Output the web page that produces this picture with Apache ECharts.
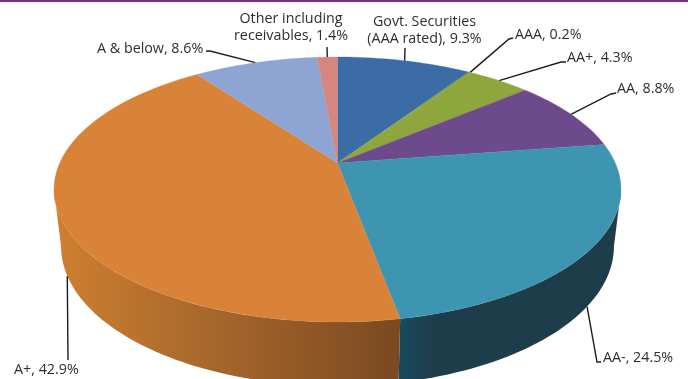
<!DOCTYPE html>
<html>
<head>
<meta charset="utf-8">
<style>
  html, body { margin: 0; padding: 0; background: #fff; }
  #chart { width: 688px; height: 379px; }
</style>
<script src="https://cdn.jsdelivr.net/npm/echarts@6/dist/echarts.min.js"></script>
</head>
<body>
<div id="chart"></div>
<script>
// Portfolio split by credit rating, clockwise from twelve o'clock.
const categories = [
  'Govt. Securities\n(AAA rated)', 'AAA', 'AA+', 'AA', 'AA-', 'A+', 'A & below',
  'Other including\nreceivables'
];
const values = [9.3, 0.2, 4.3, 8.8, 24.5, 42.9, 8.6, 1.4];
const topColors = ['#3c6ca6', '#7f9f45', '#8ea63c', '#6d4a8c', '#3e95b1', '#d98338', '#8ea5d3', '#d4867f'];

// Rim side shading per slice; slices not facing the viewer have none.
const sideFills = {
  4: [['#1e3d4b', 0], ['#1e3d4b', 0.85], ['#194a60', 1]],
  5: [['#cf7f30', 0], ['#a9692c', 0.42], ['#7a4921', 1]]
};

// Projection of the tilted disc: apex, radii and perspective strength.
const view = {
  cx: 337.5, apexY: 163, rx: 277.8, ry: 127.2, persp: 0.2,
  baseApexY: 218.6, baseRxScale: 0.975, baseRyScale: 1.053
};

// Leader line waypoints and text anchors per slice.
const callouts = [
  { via: [[405, 48]], text: [424.5, 30.5], align: 'center' },
  { via: [[509, 39], [513, 38]], text: [515, 35], align: 'left' },
  { via: [[561, 62], [566, 62]], text: [567, 58], align: 'left' },
  { via: [[611, 94], [616, 93]], text: [617, 89], align: 'left' },
  { via: [[597, 362], [601, 362]], text: [603, 358], align: 'left', onBase: true },
  { via: [[68, 360]], text: [14, 370], align: 'left', onBase: true },
  { via: [[210, 51], [206, 51]], text: [97, 49], align: 'left' },
  { via: [[327, 47]], text: [291, 27.5], align: 'center' }
];

const total = values.reduce((a, b) => a + b, 0);
const spans = [];
values.reduce((acc, v) => {
  spans.push([acc / total * 360, (acc + v) / total * 360]);
  return acc + v;
}, 0);

function project(deg, onBase) {
  const a = deg * Math.PI / 180;
  const u = Math.sin(a), v = -Math.cos(a);
  const s = 1 / (1 - view.persp * v);
  return onBase
    ? [view.cx + view.baseRxScale * view.rx * u * s, view.baseApexY + view.baseRyScale * view.ry * v * s]
    : [view.cx + view.rx * u * s, view.apexY + view.ry * v * s];
}

function arc(a0, a1, onBase) {
  const steps = Math.max(2, Math.ceil(Math.abs(a1 - a0) / 1.5));
  const pts = [];
  for (let i = 0; i <= steps; i++) pts.push(project(a0 + (a1 - a0) * i / steps, onBase));
  return pts;
}

// The silhouette generators of the disc rim, left and right.
const tangent = Math.acos(-view.persp) * 180 / Math.PI;
const frontFrom = tangent, frontTo = 360 - tangent;

function renderSide(params) {
  const i = params.dataIndex;
  const stops = sideFills[i];
  const a0 = Math.max(spans[i][0], frontFrom), a1 = Math.min(spans[i][1], frontTo);
  if (!stops || a1 <= a0) return null;
  const points = arc(a0, a1, false).concat(arc(a1, a0, true));
  const xs = points.map(p => p[0]);
  // Shading runs across the rim, darkening toward the front of the disc.
  const fromRight = i === 4;
  const fill = {
    type: 'linear', global: true,
    x: fromRight ? Math.max(...xs) : Math.min(...xs), y: 0,
    x2: fromRight ? Math.min(...xs) : Math.max(...xs), y2: 0,
    colorStops: stops.map(s => ({ color: s[0], offset: s[1] }))
  };
  return { type: 'polygon', shape: { points }, style: { fill } };
}

function renderTop(params) {
  const i = params.dataIndex;
  const points = [[view.cx, view.apexY]].concat(arc(spans[i][0], spans[i][1], false));
  return {
    type: 'polygon',
    shape: { points },
    style: { fill: topColors[i], stroke: topColors[i], lineWidth: 0.3 }
  };
}

function renderCallout(params) {
  const i = params.dataIndex;
  const c = callouts[i];
  const mid = (spans[i][0] + spans[i][1]) / 2;
  const points = [project(mid, !!c.onBase)].concat(c.via);
  return {
    type: 'group',
    children: [
      {
        type: 'polyline',
        shape: { points },
        style: { stroke: '#1c1c1c', lineWidth: 1.4, fill: null }
      },
      {
        type: 'text',
        style: {
          text: categories[i] + ', ' + values[i].toFixed(1) + '%',
          x: c.text[0], y: c.text[1],
          fill: '#2e2e2e',
          font: '14.3px "Open Sans", sans-serif',
          lineHeight: 17,
          textAlign: c.align,
          textVerticalAlign: 'middle'
        }
      }
    ]
  };
}

const chart = echarts.init(document.getElementById('chart'), null, { renderer: 'canvas' });
const sliceData = categories.map((name, i) => ({ name, value: values[i] }));

chart.setOption({
  animation: false,
  backgroundColor: '#ffffff',
  graphic: [{
    type: 'rect',
    shape: { x: 0, y: 0, width: 688, height: 2 },
    style: { fill: '#7d2a8c' }
  }],
  series: [
    { type: 'custom', coordinateSystem: 'none', z: 1, data: sliceData, renderItem: renderCallout },
    { type: 'custom', coordinateSystem: 'none', z: 2, data: sliceData, renderItem: renderSide },
    { type: 'custom', coordinateSystem: 'none', z: 3, data: sliceData, renderItem: renderTop }
  ]
});
</script>
</body>
</html>
